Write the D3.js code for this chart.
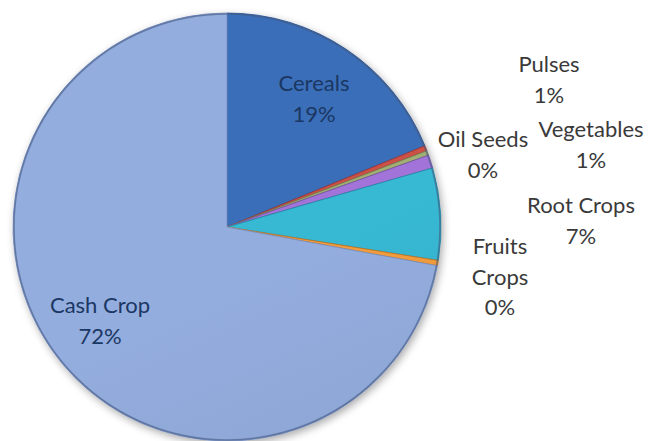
<!DOCTYPE html>
<html>
<head>
<meta charset="utf-8">
<script src="https://cdn.jsdelivr.net/npm/d3@7"></script>
<style>
  body { margin: 0; background: #fff; }
  text { font-family: Lato, "Open Sans", sans-serif; }
</style>
</head>
<body>
<svg width="652" height="441"></svg>
<script>
var crops = ['Cereals', 'Oil Seeds', 'Pulses', 'Vegetables', 'Root Crops', 'Fruits Crops', 'Cash Crop'];
var shares = [18.8, 0.4, 0.35, 1.0, 6.95, 0.4, 72.1];
var pctLabels = ['19%', '0%', '1%', '1%', '7%', '0%', '72%'];

var width = 652, height = 441;
var cx = 227, cy = 227, radius = 214;

// light / dark tone for each slice
var colorScale = d3.scaleOrdinal()
                   .domain(crops)
                   .range(['#3869b0', '#c44d44', '#9aa870', '#9b6fd0', '#35b0ca', '#e8963a', '#8da6d5']);
var darkScale = d3.scaleOrdinal()
                  .domain(crops)
                  .range(['#2a5796', '#9c3431', '#73804e', '#7550a8', '#1f8ba4', '#c47420', '#7891c3']);

// where excel put the labels (text centre, first baseline)
var labelSpots = {
  'Cereals':      [314, 91],
  'Oil Seeds':    [483, 147],
  'Pulses':       [549, 72],
  'Vegetables':   [591, 137],
  'Root Crops':   [581, 213],
  'Fruits Crops': [500, 254],
  'Cash Crop':    [100, 313]
};
var inside = ['Cereals', 'Cash Crop'];

var svg = d3.select('svg');
var defs = svg.append('defs');

crops.forEach(function(c, i) {
  var g = defs.append('linearGradient')
    .attr('id', 'grad' + i)
    .attr('gradientUnits', 'userSpaceOnUse')
    .attr('x1', cx - radius * 0.6).attr('y1', cy - radius)
    .attr('x2', cx + radius * 0.3).attr('y2', cy + radius);
  g.append('stop').attr('offset', '0%').attr('stop-color', d3.color(colorScale(c)).brighter(0.12));
  g.append('stop').attr('offset', '45%').attr('stop-color', colorScale(c));
  g.append('stop').attr('offset', '100%').attr('stop-color', darkScale(c));
});

var shadow = defs.append('filter').attr('id', 'shadow')
  .attr('x', '-10%').attr('y', '-10%').attr('width', '130%').attr('height', '130%');
shadow.append('feGaussianBlur').attr('in', 'SourceAlpha').attr('stdDeviation', 4);
shadow.append('feOffset').attr('dx', 2).attr('dy', 3).attr('result', 'b');
shadow.append('feComponentTransfer').append('feFuncA').attr('type', 'linear').attr('slope', 0.35);
var merge = shadow.append('feMerge');
merge.append('feMergeNode');
merge.append('feMergeNode').attr('in', 'SourceGraphic');

var pie = d3.pie().sort(null).value(function(d) { return d; });
var arcs = pie(shares);

var path = d3.arc().outerRadius(radius).innerRadius(0);

var chart = svg.append('g')
  .attr('transform', 'translate(' + cx + ',' + cy + ')');

chart.append('circle')
  .attr('r', radius)
  .attr('fill', '#7b93c4')
  .attr('filter', 'url(#shadow)');

chart.selectAll('.arc')
  .data(arcs)
  .enter()
  .append('path')
    .classed('arc', true)
    .attr('d', path)
    .attr('fill', function(d, i) { return 'url(#grad' + i + ')'; })
    .attr('stroke', function(d, i) { return darkScale(crops[i]); })
    .attr('stroke-width', 0.8);

// soft bevel along the rim
chart.append('circle')
  .attr('r', radius - 1)
  .attr('fill', 'none')
  .attr('stroke', '#44597f')
  .attr('stroke-opacity', 0.6)
  .attr('stroke-width', 1.5);

var labels = svg.append('g');

crops.forEach(function(c, i) {
  var spot = labelSpots[c];
  var isIn = inside.indexOf(c) >= 0;
  var lines = c === 'Fruits Crops' ? ['Fruits', 'Crops', pctLabels[i]] : [c, pctLabels[i]];
  var t = labels.append('text')
    .attr('x', spot[0])
    .attr('y', spot[1])
    .style('text-anchor', 'middle')
    .style('font-size', '22px')
    .attr('fill', isIn ? '#1b3763' : '#3a3a3a');
  lines.forEach(function(l, k) {
    t.append('tspan')
      .attr('x', spot[0])
      .attr('dy', k === 0 ? 0 : 30.5)
      .text(l);
  });
});
</script>
</body>
</html>
